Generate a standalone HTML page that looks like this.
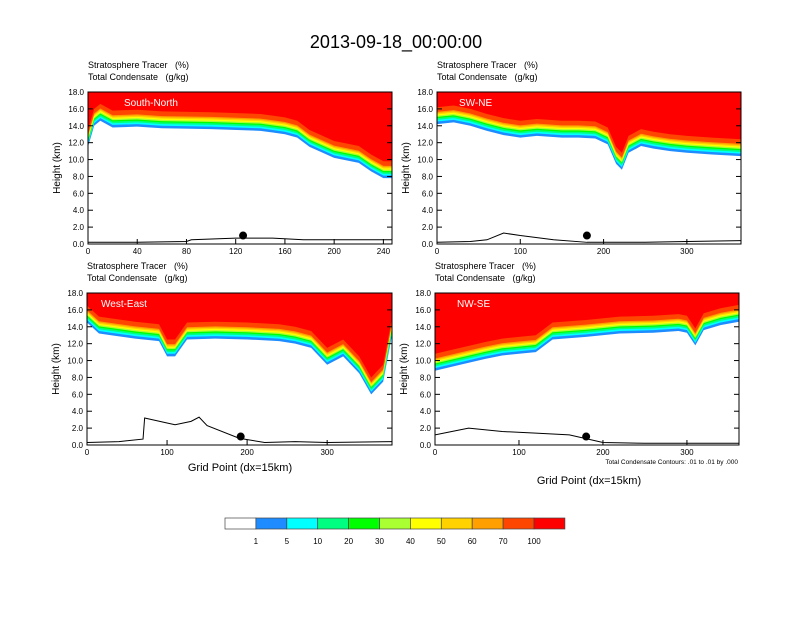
<!DOCTYPE html>
<html><head><meta charset="utf-8"><style>
body{margin:0;background:#fff;font-family:"Liberation Sans",sans-serif}
svg text{font-family:"Liberation Sans",sans-serif;white-space:pre}
</style></head><body>
<svg id="s" width="792" height="612" xmlns="http://www.w3.org/2000/svg">
<text x="396" y="48" text-anchor="middle" font-size="18">2013-09-18_00:00:00</text>
<defs id="defs"></defs>
<g id="g"></g>
</svg>
<script>
// band colors (1..100) and cumulative offsets above tropopause base (km)
const colors=["#ffffff","#1e8cff","#00ffff","#00ff80","#00ff00","#aaff33","#ffff00","#ffd200","#ffa000","#ff4600","#ff0000"];
const cbLabels=["1","5","10","20","30","40","50","60","70","100"];
const bandOffsets=[0,0.3,0.5,0.7,0.85,1.0,1.15,1.3,1.45,2.0];
const p1X=[0,5,10,20,40,60,100,140,150,160,170,180,200,220,230,240,250];
const p1H=[11.5,14,14.6,13.8,13.9,13.7,13.6,13.4,13.2,13,12.6,11.5,10.2,9.6,8.6,7.8,7.8];
const p2X=[0,20,40,60,80,100,120,150,170,190,205,215,222,230,245,260,280,300,330,365];
const p2H=[14.2,14.4,14,13.4,12.9,12.6,12.8,12.6,12.6,12.5,11.8,9.5,8.8,10.8,11.6,11.3,11,10.8,10.6,10.4];
const p3X=[0,15,30,60,90,100,110,125,160,200,240,260,280,300,320,340,355,370,381];
const p3H=[14.5,13.2,13,12.6,12.3,10.5,10.5,12.5,12.6,12.5,12.3,12,11.5,9.5,10.5,8.5,6,7.5,13];
const p4X=[0,30,60,80,100,120,140,180,220,260,290,300,310,320,340,362];
const p4H=[8.8,9.5,10.2,10.6,10.8,11,12.5,12.8,13.2,13.3,13.5,13.3,11.8,13.6,14.2,14.6];
const t1X=[0,40,80,84,120,150,175,250];const t1H=[0.2,0.2,0.3,0.5,0.7,0.7,0.5,0.5];
const t2X=[0,40,60,80,100,140,180,200,250,300,365];const t2H=[0.2,0.3,0.5,1.3,1.0,0.5,0.2,0.2,0.2,0.3,0.4];
const t3X=[0,40,70,72,100,110,130,140,150,190,222,260,300,381];const t3H=[0.3,0.4,0.7,3.2,2.6,2.4,2.8,3.3,2.3,0.8,0.3,0.4,0.3,0.4];
const t4X=[0,20,40,80,120,160,200,250,300,362];const t4H=[1.2,1.6,2.0,1.6,1.4,1.2,0.3,0.2,0.2,0.2];
const panels=[
 {n:"south-north",label:"South-North",x0:88,y0:92,w:304,h:152,max:247,ticks:[0,40,80,120,160,200,240],X:p1X,H:p1H,TX:t1X,TH:t1H,dot:126},
 {n:"sw-ne",label:"SW-NE",x0:437,y0:92,w:304,h:152,max:365,ticks:[0,100,200,300],X:p2X,H:p2H,TX:t2X,TH:t2H,dot:180},
 {n:"west-east",label:"West-East",x0:87,y0:293,w:305,h:152,max:381,ticks:[0,100,200,300],X:p3X,H:p3H,TX:t3X,TH:t3H,dot:192},
 {n:"nw-se",label:"NW-SE",x0:435,y0:293,w:304,h:152,max:362,ticks:[0,100,200,300],X:p4X,H:p4H,TX:t4X,TH:t4H,dot:180}
];
const NS="http://www.w3.org/2000/svg";const G=document.getElementById('g');const D=document.getElementById('defs');
function mk(t,a,p){const e=document.createElementNS(NS,t);for(const k in a)e.setAttribute(k,a[k]);(p||G).appendChild(e);return e;}
panels.forEach((P,pi)=>{
 const sx=v=>P.x0+v/P.max*P.w, sy=v=>P.y0+P.h-v/18*P.h;
 const cp=mk('clipPath',{id:'c'+pi},D);mk('rect',{x:P.x0,y:P.y0,width:P.w,height:P.h},cp);
 const g=mk('g',{});
 
 
 const sub=mk('text',{x:P.x0,y:P.y0-24,'font-size':9},g);sub.textContent="Stratosphere Tracer   (%)";
 
 const sub2=mk('text',{x:P.x0,y:P.y0-12,'font-size':9},g);sub2.textContent="Total Condensate   (g/kg)";
 
 const fg=mk('g',{'clip-path':'url(#c'+pi+')'},g);
 bandOffsets.forEach((o,i)=>{
  let pts=P.X.map((x,j)=>sx(x)+','+sy(Math.min(18,P.H[j]+o))).join(' ');
  pts=sx(P.X[P.X.length-1])+','+sy(18)+' '+sx(0)+','+sy(18)+' '+pts;
  const pg=mk('polygon',{points:pts,fill:colors[i+1]},fg);
  
  
 });
 const tl=mk('polyline',{points:P.TX.map((x,j)=>sx(x)+','+sy(P.TH[j])).join(' '),fill:'none',stroke:'#000','stroke-width':1},fg);
 
 const d=mk('circle',{cx:sx(P.dot),cy:sy(1.0),r:4,fill:'#000'},g);
 
 const fr=mk('rect',{x:P.x0,y:P.y0,width:P.w,height:P.h,fill:'none',stroke:'#000','stroke-width':1},g);
 
 const lb=mk('text',{x:P.x0+(P.n=='south-north'?36:P.n=='west-east'?14:22),y:P.y0+14,'font-size':10,fill:'#fff'},g);lb.textContent=P.label;
 
 for(let v=0;v<=18;v+=2){
  mk('line',{x1:P.x0,x2:P.x0+5,y1:sy(v),y2:sy(v),stroke:'#000'},g);
  mk('line',{x1:P.x0+P.w,x2:P.x0+P.w-5,y1:sy(v),y2:sy(v),stroke:'#000'},g);
  const t=mk('text',{x:P.x0-4,y:sy(v)+3,'font-size':8,'text-anchor':'end'},g);t.textContent=v.toFixed(1);
  
 }
 P.ticks.forEach(v=>{
  mk('line',{x1:sx(v),x2:sx(v),y1:P.y0+P.h,y2:P.y0+P.h-5,stroke:'#000'},g);
  const t=mk('text',{x:sx(v),y:P.y0+P.h+10,'font-size':8,'text-anchor':'middle'},g);t.textContent=v;
  
 });
 const yt=mk('text',{x:0,y:0,'font-size':10,'text-anchor':'middle',transform:`translate(${P.x0-28},${P.y0+P.h/2}) rotate(-90)`},g);yt.textContent="Height (km)";
 
});
const xa=mk('text',{x:240,y:471,'font-size':11,'text-anchor':'middle'});xa.textContent="Grid Point (dx=15km)";

const xb=mk('text',{x:589,y:484,'font-size':11,'text-anchor':'middle'});xb.textContent="Grid Point (dx=15km)";

const cn=mk('text',{x:738,y:464,'font-size':6.5,'text-anchor':'end'});cn.textContent="Total Condensate Contours: .01 to .01 by .000";

const cb=mk('g',{});

colors.forEach((c,i)=>{const r=mk('rect',{x:225+i*30.9,y:518,width:30.9,height:11,fill:c,stroke:'#444','stroke-width':0.7},cb);
 });
cbLabels.forEach((l,i)=>{const t=mk('text',{x:225+(i+1)*30.9,y:544,'font-size':8,'text-anchor':'middle'},cb);t.textContent=l;
 });
</script>
</body></html>
